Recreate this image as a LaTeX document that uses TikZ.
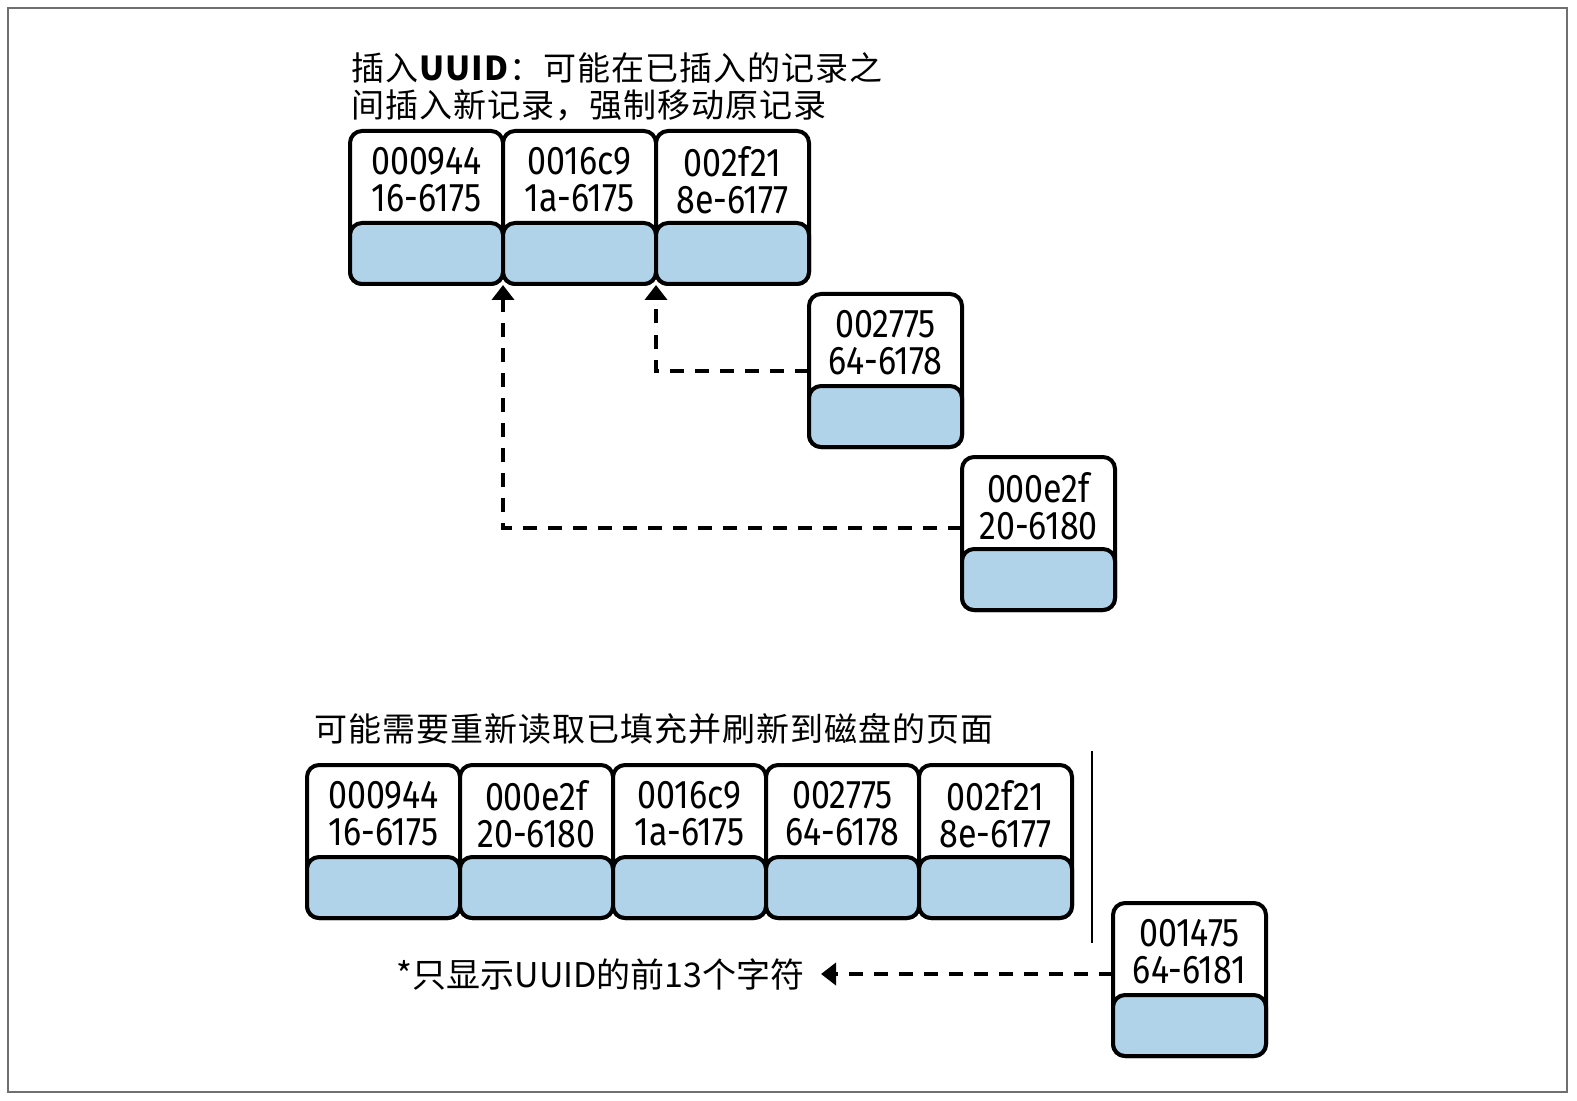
\documentclass[tikz,border=0pt]{standalone}
\usepackage{fontspec}
\setmainfont{Noto Sans}
\newfontfamily\numfont{Fira Sans}[FakeStretch=0.85,Numbers=Proportional]
\newfontfamily\cjk{Noto Sans CJK SC}[LetterSpace=3]
\newfontfamily\cjkfoot{Noto Sans CJK SC}
\usetikzlibrary{arrows.meta}
\definecolor{boxblue}{RGB}{176,211,233}
\definecolor{framegray}{RGB}{112,112,112}
\newcommand\uuidbox[5]{%
  \node[recbox] (#1) at ({#2+76.5},{#3+76.5}) {};
  \draw[bluebox] (#1.south west) rectangle ++(153,-61);
  \node[numtext] (#1t) at ({#2+76.5},{#3+49}) {#4\\#5};
}
\begin{document}
\begin{tikzpicture}[x=0.5pt,y=-0.5pt,
  recbox/.style={draw=black, line width=2pt, fill=white, rounded corners=6pt,
    minimum width=76.5pt, minimum height=76.5pt, inner sep=0pt, outer sep=0pt},
  bluebox/.style={draw=black, line width=2pt, fill=boxblue, rounded corners=6pt},
  numtext/.style={font=\numfont\fontsize{20}{18.5}\selectfont, align=center, inner sep=0pt},
  titletext/.style={font=\cjk\fontsize{16.5}{18.5}\selectfont, align=left, inner sep=0pt, anchor=west},
  foottext/.style={font=\cjkfoot\fontsize{17}{18}\selectfont, inner sep=0pt, anchor=east},
  dasharrow/.style={line width=2pt, dash pattern=on 7pt off 5.5pt,
    -{Triangle[length=7.5pt,width=11pt]}, shorten >=0.5pt},
]
\useasboundingbox (0,0) rectangle (1577,1101);
\draw[framegray, line width=1.2pt] (8,8) rectangle (1567,1092);

% titles
\node[titletext] (title1) at (351,86.5) {插入\textbf{UUID}：可能在已插入的记录之\\间插入新记录，强制移动原记录};
\node[titletext] (title2) at (314,729) {可能需要重新读取已填充并刷新到磁盘的页面};

% top row
\uuidbox{t1}{350}{131}{000944}{16-6175}
\uuidbox{t2}{503}{131}{0016c9}{1a-6175}
\uuidbox{t3}{656}{131}{002f21}{8e-6177}
\uuidbox{m1}{809}{294}{002775}{64-6178}
\uuidbox{m2}{962}{457}{000e2f}{20-6180}

\draw[dasharrow] (m1.west) -| (t2.south east);
\draw[dasharrow] ([yshift=2.75pt]m2.west) -| (t1.south east);

% bottom row
\uuidbox{b1}{307}{765}{000944}{16-6175}
\uuidbox{b2}{460}{765}{000e2f}{20-6180}
\uuidbox{b3}{613}{765}{0016c9}{1a-6175}
\uuidbox{b4}{766}{765}{002775}{64-6178}
\uuidbox{b5}{919}{765}{002f21}{8e-6177}

\draw[line width=0.8pt] (1092,751) -- (1092,943);

\uuidbox{n1}{1113}{903}{001475}{64-6181}

\node[foottext, inner xsep=7.5pt] (foot) at (820,974) {*只显示UUID的前13个字符};
\draw[dasharrow] ([yshift=2.75pt]n1.west) -- (foot.east);
\end{tikzpicture}
\end{document}
